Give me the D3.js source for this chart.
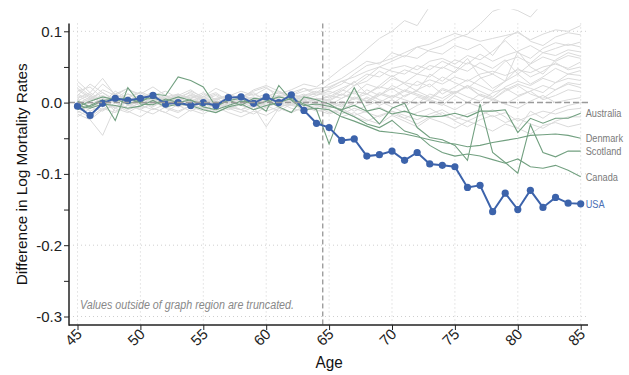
<!DOCTYPE html>
<html>
<head>
<meta charset="utf-8">
<script src="https://cdn.jsdelivr.net/npm/d3@7"></script>
<style>
  html, body { margin: 0; padding: 0; background: #fff; }
  svg { display: block; }
  text { font-family: "Liberation Sans", Arial, sans-serif; }
</style>
</head>
<body>
<svg id="chart" width="629" height="375"></svg>
<script>
// Ages covered by every series
const ages = d3.range(45, 86);

const xTicks = [45, 50, 55, 60, 65, 70, 75, 80, 85];
const yTicks = [0.1, 0.0, -0.1, -0.2, -0.3];
const yMinorTicks = [0.05, -0.05, -0.15, -0.25];
const yTickLabels = ["0.1", "0.0", "-0.1", "-0.2", "-0.3"];

// Highlighted country
const usa = [-0.005,-0.018,-0.001,0.006,0.003,0.006,0.010,-0.002,0.000,-0.004,0.000,-0.004,0.007,0.008,-0.001,0.008,0.000,0.011,-0.011,-0.029,
  -0.035,-0.053,-0.051,-0.075,-0.073,-0.068,-0.081,-0.070,-0.086,-0.088,-0.090,-0.119,-0.116,-0.153,-0.127,-0.150,-0.123,-0.147,-0.133,-0.141,-0.142];

// Labelled comparison countries
const australia = [0.002,-0.006,0.003,0.005,-0.002,0.004,0.006,0.002,0.008,0.003,-0.002,-0.004,0.003,0.006,-0.004,0.002,0.008,0.004,-0.004,-0.002,
  -0.005,-0.010,-0.004,-0.012,-0.008,-0.016,-0.012,-0.018,-0.020,-0.019,-0.015,-0.020,-0.012,-0.012,-0.010,-0.042,-0.022,-0.029,-0.022,-0.022,-0.015];
const denmark = [-0.010,-0.004,0.004,-0.025,0.021,-0.002,-0.003,0.005,0.000,0.004,-0.006,-0.010,-0.004,0.002,0.000,-0.012,0.024,0.003,-0.010,-0.008,
  -0.010,-0.020,-0.026,-0.033,-0.040,-0.042,-0.044,-0.048,-0.052,-0.056,-0.058,-0.062,-0.060,-0.056,-0.053,-0.050,-0.046,-0.045,-0.044,-0.046,-0.050];
const scotland = [-0.006,0.002,0.008,0.004,0.006,0.000,0.012,0.010,0.036,0.031,0.022,-0.006,0.004,-0.004,0.006,0.004,-0.006,-0.014,0.008,0.004,
  -0.002,-0.012,0.021,-0.012,-0.030,-0.008,-0.001,-0.035,-0.049,-0.052,-0.060,-0.081,-0.002,-0.070,-0.084,-0.099,-0.031,-0.070,-0.076,-0.068,-0.068];
const canada = [-0.004,-0.008,-0.002,-0.004,-0.008,-0.005,0.003,-0.006,-0.002,-0.004,-0.010,-0.014,-0.006,-0.002,-0.010,-0.004,0.000,0.006,-0.002,-0.010,
  -0.058,-0.012,-0.020,-0.030,-0.035,-0.025,-0.040,-0.045,-0.060,-0.070,-0.075,-0.072,-0.075,-0.080,-0.085,-0.079,-0.090,-0.092,-0.088,-0.095,-0.104];

// Remaining countries, drawn in the background
const other01 = [0.012,0.004,0.018,0.010,0.006,0.015,0.008,0.002,0.011,0.006,0.014,0.004,0.009,0.016,0.010,0.020,0.012,0.018,0.026,0.022,
  0.034,0.048,0.060,0.075,0.090,0.100,0.115,0.108,0.135,0.150,0.165,0.180,0.190,0.200,0.210,0.220,0.230,0.240,0.250,0.260,0.270];
const other02 = [0.020,0.008,0.026,0.012,0.004,0.010,0.002,0.008,0.012,0.004,0.000,0.006,-0.002,0.010,0.004,0.008,0.014,0.010,0.016,0.020,
  0.022,0.030,0.036,0.044,0.050,0.058,0.066,0.062,0.074,0.080,0.090,0.096,0.110,0.128,0.134,0.129,0.120,0.140,0.150,0.160,0.170];
const other03 = [-0.006,0.004,0.010,0.002,0.012,0.006,0.000,0.008,0.004,0.010,0.006,0.002,0.012,0.004,0.008,0.000,0.010,0.012,0.006,0.014,
  0.018,0.026,0.040,0.052,0.056,0.062,0.070,0.078,0.082,0.090,0.097,0.092,0.086,0.090,0.094,0.098,0.088,0.096,0.102,0.100,0.108];
const other04 = [0.016,0.022,0.006,0.000,0.008,0.014,0.004,-0.004,0.006,0.010,0.002,-0.006,0.004,0.012,0.002,0.008,0.016,0.004,0.010,0.012,
  0.012,0.020,0.028,0.040,0.036,0.048,0.052,0.046,0.058,0.062,0.054,0.066,0.060,0.072,0.087,0.070,0.062,0.076,0.084,0.080,0.085];
const other05 = [0.004,-0.008,0.002,0.010,-0.004,0.006,0.012,0.000,-0.004,0.008,0.004,0.010,0.000,0.006,0.012,0.004,0.000,0.008,0.004,0.010,
  0.016,0.010,0.024,0.030,0.044,0.036,0.046,0.040,0.052,0.048,0.060,0.054,0.068,0.058,0.066,0.072,0.080,0.070,0.076,0.082,0.078];
const other06 = [-0.010,0.000,-0.006,0.004,0.008,-0.002,0.004,0.010,0.002,-0.006,0.000,0.006,0.010,0.002,-0.004,0.006,0.002,0.010,0.008,0.004,
  0.008,0.018,0.012,0.026,0.020,0.034,0.028,0.040,0.036,0.050,0.042,0.056,0.048,0.040,0.058,0.064,0.055,0.070,0.066,0.074,0.071];
const other07 = [0.024,0.010,0.000,0.016,0.006,0.002,-0.006,0.004,0.012,0.000,0.008,0.014,0.002,-0.004,0.006,0.012,0.004,0.000,0.010,0.016,
  0.006,0.016,0.030,0.012,0.024,0.038,0.026,0.016,0.040,0.030,0.044,0.062,0.036,0.020,0.030,0.072,0.050,0.040,0.060,0.070,0.065];
const other08 = [0.002,0.012,-0.004,0.006,0.000,0.010,0.004,-0.002,0.008,0.014,0.004,0.000,0.006,0.010,-0.002,0.004,0.010,0.000,0.006,0.002,
  0.010,0.006,0.016,0.012,0.022,0.018,0.028,0.024,0.032,0.026,0.036,0.030,0.040,0.044,0.038,0.046,0.042,0.050,0.054,0.048,0.057];
const other09 = [-0.014,-0.004,0.006,-0.008,0.002,-0.004,0.008,0.000,-0.006,0.002,-0.010,0.000,0.006,-0.004,0.002,-0.008,0.004,0.000,-0.004,0.006,
  0.002,0.012,0.004,0.018,0.010,0.024,0.016,0.030,0.022,0.036,0.028,0.020,0.034,0.040,0.030,0.048,0.036,0.044,0.056,0.046,0.050];
const other10 = [0.006,0.014,0.002,-0.006,0.004,0.010,-0.002,0.006,0.000,0.012,0.006,-0.004,0.002,0.008,0.014,0.002,-0.004,0.006,0.012,0.000,
  -0.004,0.006,0.014,0.000,0.010,0.020,0.008,0.018,0.026,0.012,0.022,0.032,0.024,0.016,0.030,0.040,0.026,0.036,0.048,0.040,0.045];
const other11 = [-0.020,-0.008,0.004,-0.012,-0.004,0.002,-0.008,-0.014,-0.002,0.004,-0.006,-0.012,0.000,-0.004,-0.010,0.002,-0.006,-0.002,0.004,-0.004,
  0.000,-0.006,0.008,0.002,0.012,0.006,0.016,0.010,0.004,0.018,0.012,0.024,0.016,0.008,0.022,0.030,0.024,0.034,0.028,0.040,0.038];
const other12 = [0.010,0.000,-0.010,0.004,0.012,0.006,-0.004,0.002,0.008,-0.002,-0.008,0.004,0.010,0.000,0.006,-0.004,0.002,0.008,0.000,0.006,
  0.004,0.012,0.006,0.002,0.014,0.008,0.018,0.012,0.006,0.020,0.014,0.024,0.010,0.004,0.018,0.026,0.020,0.014,0.028,0.034,0.031];
const other13 = [0.000,-0.012,-0.004,0.006,-0.002,-0.010,0.000,0.004,-0.006,-0.002,0.004,-0.004,-0.010,-0.002,0.004,-0.006,0.000,-0.004,0.002,-0.002,
  -0.006,0.002,-0.004,0.008,0.000,0.010,0.004,-0.002,0.012,0.006,0.016,0.008,0.002,0.014,0.020,0.010,0.016,0.024,0.018,0.028,0.025];
const other14 = [0.030,0.014,0.034,0.010,0.020,0.002,0.010,0.016,0.006,0.000,0.012,0.004,0.010,0.000,-0.006,0.004,0.010,0.002,-0.002,0.006,
  0.002,-0.004,0.006,0.012,0.004,-0.002,0.010,0.016,0.008,0.002,0.014,0.022,0.010,0.004,0.016,0.024,0.012,0.006,0.018,0.026,0.021];
const other15 = [-0.004,0.006,0.014,0.002,-0.008,0.000,0.010,0.004,-0.004,0.006,0.000,-0.008,0.004,-0.002,-0.010,0.000,0.006,-0.004,-0.008,0.002,
  -0.002,-0.010,0.000,0.006,-0.004,0.004,-0.006,0.008,0.002,-0.004,0.010,0.000,0.012,0.006,-0.002,0.008,0.016,0.004,0.010,0.018,0.015];
const other16 = [0.008,-0.024,-0.046,-0.006,0.000,-0.008,-0.002,0.006,-0.004,-0.012,-0.004,0.002,-0.006,-0.010,0.000,-0.004,-0.012,-0.002,0.004,-0.004,
  -0.008,-0.002,-0.012,-0.004,0.002,-0.006,-0.014,-0.004,0.004,-0.002,-0.010,0.000,-0.006,0.004,-0.002,-0.008,0.002,0.010,0.000,0.004,0.007];
const other17 = [-0.012,-0.020,-0.008,-0.014,-0.004,-0.010,-0.016,-0.006,-0.012,-0.004,-0.008,-0.014,-0.006,-0.010,-0.004,-0.012,-0.006,-0.002,-0.008,-0.004,
  -0.010,-0.016,-0.008,-0.014,-0.020,-0.012,-0.018,-0.024,-0.016,-0.010,-0.020,-0.026,-0.018,-0.010,-0.020,-0.036,-0.012,-0.022,-0.010,-0.004,0.000];
const other18 = [0.004,-0.006,-0.012,0.000,-0.010,-0.004,0.002,-0.008,-0.014,-0.004,0.002,-0.006,-0.002,-0.010,-0.016,-0.006,0.000,-0.008,-0.012,-0.006,
  -0.014,-0.008,-0.018,-0.012,-0.006,-0.016,-0.022,-0.014,-0.008,-0.018,-0.024,-0.016,-0.010,-0.020,-0.014,-0.026,-0.018,-0.012,-0.016,-0.010,-0.008];
const other19 = [-0.002,0.008,0.000,-0.008,-0.014,-0.004,-0.010,-0.002,0.004,-0.006,-0.012,-0.002,-0.008,-0.014,-0.006,-0.034,-0.008,-0.014,-0.006,-0.010,
  -0.016,-0.010,-0.020,-0.026,-0.018,-0.012,-0.022,-0.030,-0.020,-0.014,-0.026,-0.034,-0.024,-0.018,-0.028,-0.022,-0.030,-0.036,-0.026,-0.020,-0.020];
const other20 = [-0.016,-0.024,-0.010,-0.004,-0.012,-0.020,-0.008,-0.014,-0.022,-0.010,-0.016,-0.006,-0.014,-0.020,-0.012,-0.018,-0.008,-0.014,-0.006,-0.012,
  -0.010,-0.020,-0.014,-0.024,-0.030,-0.018,-0.026,-0.034,-0.022,-0.028,-0.036,-0.026,-0.032,-0.040,-0.030,-0.036,-0.044,-0.032,-0.028,-0.034,-0.030];
const other21 = [0.010,0.026,0.014,0.004,0.018,0.012,0.022,0.010,0.004,0.016,0.008,0.020,0.012,0.006,0.018,0.024,0.016,0.010,0.020,0.014,
  0.026,0.034,0.046,0.058,0.054,0.070,0.064,0.078,0.072,0.068,0.080,0.074,0.082,0.066,0.090,0.100,0.086,0.080,0.092,0.098,0.095];
const other22 = [0.018,0.006,-0.004,0.012,0.020,0.008,0.014,0.004,0.010,0.018,0.006,0.012,0.002,0.008,0.016,0.022,0.006,0.014,0.020,0.010,
  0.020,0.030,0.024,0.036,0.050,0.044,0.040,0.052,0.046,0.058,0.050,0.044,0.056,0.048,0.060,0.040,0.054,0.064,0.058,0.066,0.062];

const background = [other01, other02, other03, other04, other05, other06, other07, other08, other09, other10, other11,
  other12, other13, other14, other15, other16, other17, other18, other19, other20, other21, other22];
const labelled = [
  { name: "Australia", values: australia },
  { name: "Denmark", values: denmark },
  { name: "Scotland", values: scotland },
  { name: "Canada", values: canada }
];

const svg = d3.select("#chart");
const x = d3.scaleLinear().domain([45, 85]).range([77.5, 580.7]);
const y = d3.scaleLinear().domain([-0.3, 0.1]).range([316.5, 31.3]);

const plotLeft = 69, plotRight = 588, plotTop = y(0.111), plotBottom = 325;
const clipTop = y(0.131);
// horizontal squeeze that gives the narrow lettering
const narrow = 0.8;

svg.append("defs").append("clipPath").attr("id", "plotClip")
  .append("rect").attr("x", plotLeft).attr("y", clipTop)
  .attr("width", plotRight - plotLeft).attr("height", plotBottom - clipTop);

// dotted grid
const grid = svg.append("g").attr("stroke", "#cfcfcf").attr("stroke-width", 1).attr("stroke-dasharray", "1,3");
grid.selectAll(".gx").data(xTicks).join("line")
  .attr("x1", d => x(d)).attr("x2", d => x(d)).attr("y1", plotTop).attr("y2", plotBottom);
grid.selectAll(".gy").data(yTicks).join("line")
  .attr("x1", plotLeft).attr("x2", plotRight).attr("y1", d => y(d)).attr("y2", d => y(d));

const line = d3.line().x((d, i) => x(ages[i])).y(d => y(d));
const plot = svg.append("g").attr("clip-path", "url(#plotClip)");

plot.append("g").selectAll("path").data(background).join("path")
  .attr("d", line).attr("fill", "none").attr("stroke", "#dadada").attr("stroke-width", 1);

plot.append("g").selectAll("path").data(labelled).join("path")
  .attr("d", d => line(d.values)).attr("fill", "none").attr("stroke", "#72a080").attr("stroke-width", 1.1);

// reference lines: zero difference and age 65
svg.append("line").attr("x1", plotLeft).attr("x2", plotRight).attr("y1", y(0)).attr("y2", y(0))
  .attr("stroke", "#9a9a9a").attr("stroke-width", 1.5).attr("stroke-dasharray", "6,3");
svg.append("line").attr("x1", x(64.5)).attr("x2", x(64.5)).attr("y1", plotTop).attr("y2", plotBottom)
  .attr("stroke", "#777").attr("stroke-width", 1).attr("stroke-dasharray", "5,3");

plot.append("path").datum(usa).attr("d", line).attr("fill", "none")
  .attr("stroke", "#3c63ab").attr("stroke-width", 2);
plot.append("g").selectAll("circle").data(usa).join("circle")
  .attr("cx", (d, i) => x(ages[i])).attr("cy", d => y(d)).attr("r", 3.6).attr("fill", "#3c63ab");

// axes
const yAxis = d3.axisLeft(y).tickValues(yTicks.concat(yMinorTicks)).tickSize(5)
  .tickFormat(d => { const k = yTicks.indexOf(d); return k >= 0 ? yTickLabels[k] : ""; });
const gy = svg.append("g").attr("transform", `translate(${plotLeft},0)`).call(yAxis);
gy.select(".domain").remove();
gy.selectAll(".tick line").attr("stroke", "#222");
gy.selectAll(".tick text").attr("font-size", 15).attr("fill", "#222").attr("x", -7)
  .style("font-family", "'Liberation Sans', Arial, sans-serif");

const xAxis = d3.axisBottom(x).tickValues(xTicks).tickSize(5).tickFormat(d3.format("d"));
const gx = svg.append("g").attr("transform", `translate(0,${plotBottom})`).call(xAxis);
gx.select(".domain").remove();
gx.selectAll(".tick line").attr("stroke", "#222");
gx.selectAll(".tick text").attr("font-size", 15).attr("fill", "#222")
  .attr("text-anchor", "end").attr("dy", null).attr("y", null)
  .attr("transform", "translate(5,10) rotate(-45)")
  .style("font-family", "'Liberation Sans', Arial, sans-serif");

svg.append("line").attr("x1", plotLeft).attr("x2", plotLeft).attr("y1", plotTop).attr("y2", plotBottom + 0.75)
  .attr("stroke", "#222").attr("stroke-width", 1.5);
svg.append("line").attr("x1", plotLeft).attr("x2", plotRight).attr("y1", plotBottom).attr("y2", plotBottom)
  .attr("stroke", "#222").attr("stroke-width", 1.5);

// series labels at the right edge
const labels = labelled.map(d => ({ name: d.name, v: d.values[d.values.length - 1], color: "#7a7a7a" }))
  .concat([{ name: "USA", v: usa[usa.length - 1], color: "#4a6fb5" }]);
svg.append("g").selectAll("text").data(labels).join("text")
  .attr("transform", d => `translate(${x(85) + 5},${y(d.v)}) scale(${narrow},1)`).attr("dy", "0.35em")
  .attr("font-size", 11.5).attr("fill", d => d.color).text(d => d.name);

// titles and note
svg.append("text").attr("transform", `translate(27,${(plotTop + plotBottom) / 2}) rotate(-90)`)
  .attr("text-anchor", "middle").attr("font-size", 14.5).attr("fill", "#111")
  .attr("textLength", 222).attr("lengthAdjust", "spacingAndGlyphs")
  .text("Difference in Log Mortality Rates");
svg.append("text").attr("transform", `translate(${x(65)},368) scale(0.9,1)`).attr("text-anchor", "middle")
  .attr("font-size", 17).attr("fill", "#111").text("Age");
svg.append("text").attr("x", 80).attr("y", 309).attr("font-size", 12)
  .attr("font-style", "italic").attr("fill", "#888")
  .attr("textLength", 214).attr("lengthAdjust", "spacingAndGlyphs")
  .text("Values outside of graph region are truncated.");
</script>
</body>
</html>
